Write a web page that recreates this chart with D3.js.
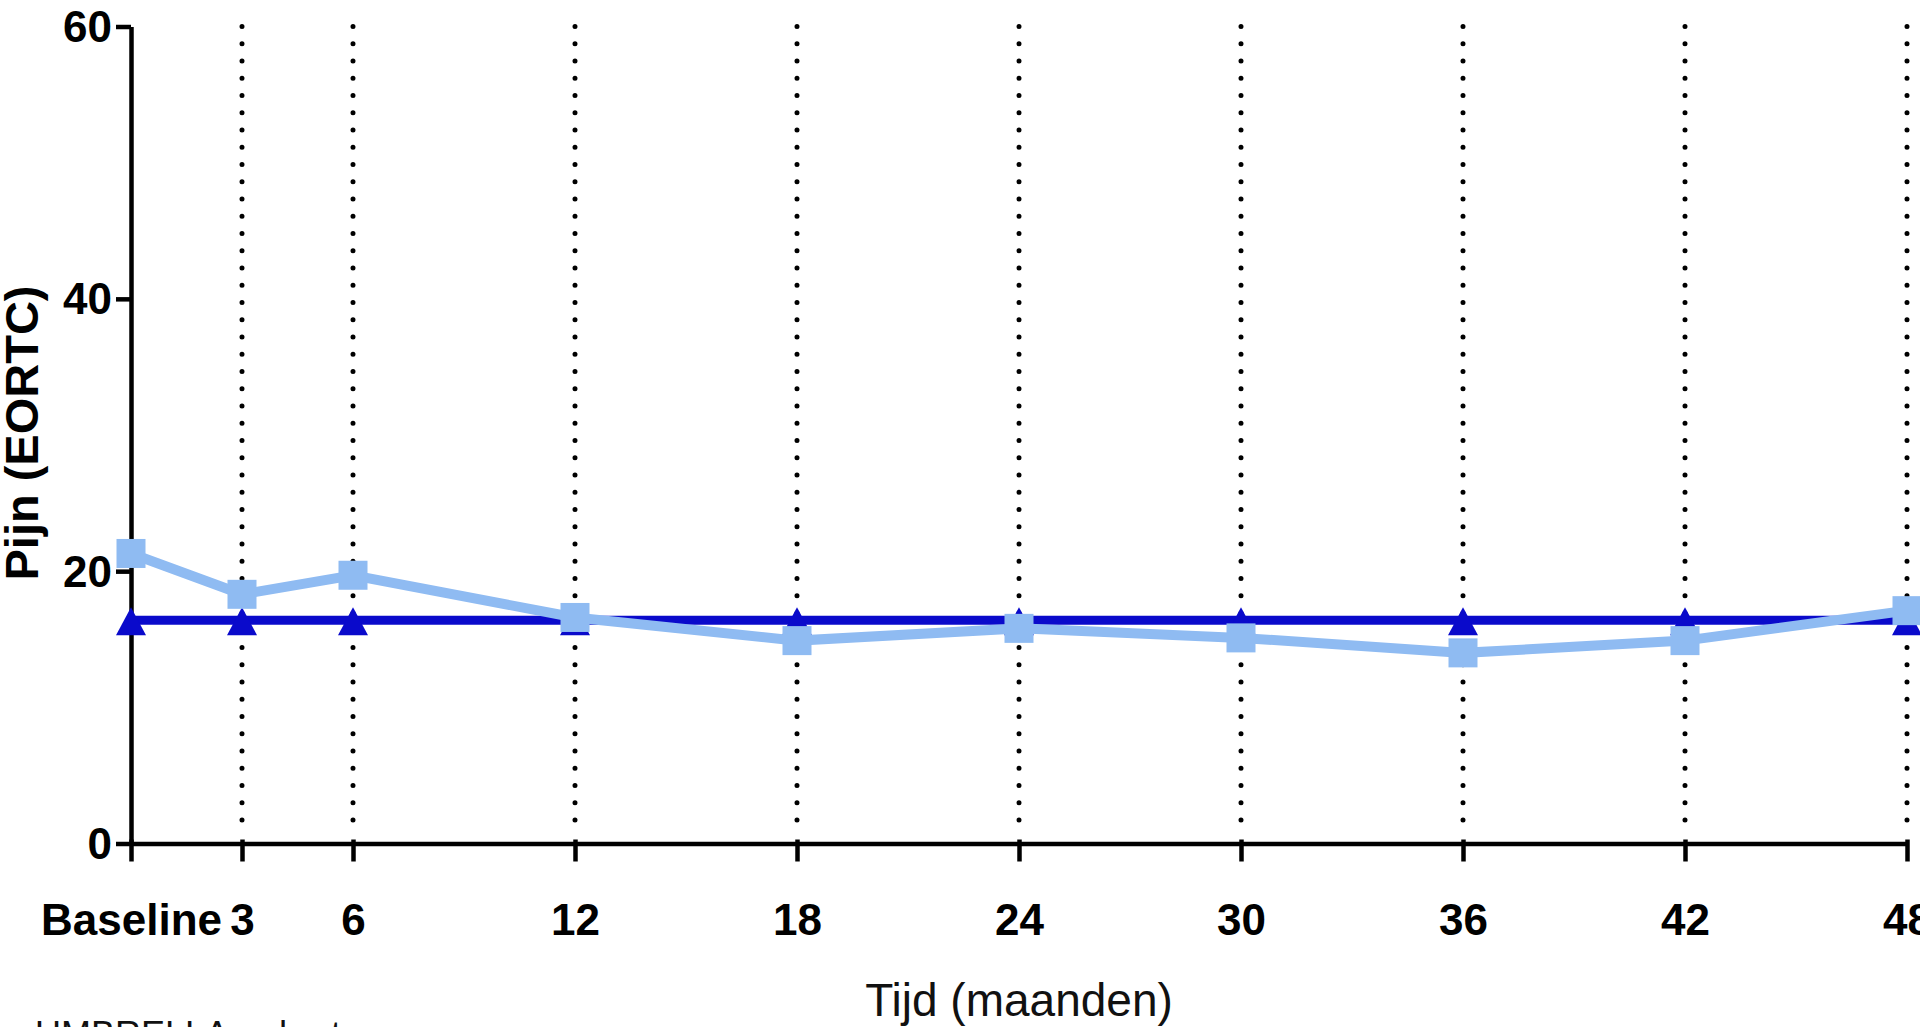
<!DOCTYPE html>
<html>
<head>
<meta charset="utf-8">
<script src="https://cdn.jsdelivr.net/npm/d3@7"></script>
<style>
html, body { margin: 0; padding: 0; background: #fff; overflow: hidden; }
svg { display: block; }
</style>
</head>
<body>
<script>
// ---- data ----
const months = [0, 3, 6, 12, 18, 24, 30, 36, 42, 48];
const tickLabels = ["Baseline", "3", "6", "12", "18", "24", "30", "36", "42", "48"];
const seriesDark = [16.4, 16.4, 16.4, 16.4, 16.4, 16.4, 16.4, 16.4, 16.4, 16.4];
const seriesLight = [21.3, 18.3, 19.7, 16.6, 14.9, 15.8, 15.1, 14.0, 14.9, 17.1];
const yTicks = [0, 20, 40, 60];
const yTitle = "Pijn (EORTC)";
const xTitle = "Tijd (maanden)";
const footText = "UMBRELLA-cohort";

const W = 1920, H = 1027;
const svg = d3.select("body").append("svg").attr("width", W).attr("height", H);

const x = d3.scaleLinear().domain([0, 48]).range([131, 1907]);
const y = d3.scaleLinear().domain([0, 60]).range([843.5, 26.5]);

const FONT = "'Liberation Sans', Arial, Helvetica, sans-serif";

// dotted vertical reference lines
svg.append("g").selectAll("line").data(months.filter(m => m > 0)).join("line")
  .attr("x1", d => x(d)).attr("x2", d => x(d))
  .attr("y1", y(60)).attr("y2", y(0) - 8)
  .attr("stroke", "#000").attr("stroke-width", 5)
  .attr("stroke-linecap", "round").attr("stroke-dasharray", "0 17.25");

// y axis
const yAxis = svg.append("g").attr("transform", `translate(${x(0)},0)`)
  .call(d3.axisLeft(y).tickValues(yTicks).tickSize(15).tickSizeOuter(0).tickPadding(4));
yAxis.select(".domain").attr("stroke", "#000").attr("stroke-width", 4.5);
yAxis.selectAll(".tick line").attr("stroke", "#000").attr("stroke-width", 4.5);
yAxis.selectAll(".tick text").attr("font-family", FONT).attr("font-weight", "bold")
  .attr("font-size", 44).attr("fill", "#000").attr("dy", "0.34em");

// x axis
const xAxis = svg.append("g").attr("transform", `translate(0,${y(0)})`)
  .call(d3.axisBottom(x).tickValues(months).tickFormat((d, i) => tickLabels[i])
    .tickSize(18).tickSizeOuter(0).tickPadding(42));
xAxis.select(".domain").attr("stroke", "#000").attr("stroke-width", 4.5);
xAxis.selectAll(".tick line").attr("stroke", "#000").attr("stroke-width", 4.5).attr("y1", -4);
xAxis.selectAll(".tick text").attr("font-family", FONT).attr("font-weight", "bold")
  .attr("font-size", 44).attr("fill", "#000").attr("dy", "0.71em");

// dark blue series
const darkColor = "#0a0acb";
const lightColor = "#8fbbf2";
const pts = (vals) => months.map((m, i) => [m, vals[i]]);
const line = d3.line().x(d => x(d[0])).y(d => y(d[1]));

svg.append("path").datum(pts(seriesDark)).attr("d", line)
  .attr("fill", "none").attr("stroke", darkColor).attr("stroke-width", 9);
svg.append("g").selectAll("path").data(pts(seriesDark)).join("path")
  .attr("d", d => {
    const cx = x(d[0]), cy = y(d[1]);
    return `M${cx},${cy - 13}L${cx + 15},${cy + 15}L${cx - 15},${cy + 15}Z`;
  })
  .attr("fill", darkColor);

// light blue series
svg.append("path").datum(pts(seriesLight)).attr("d", line)
  .attr("fill", "none").attr("stroke", lightColor).attr("stroke-width", 10);
svg.append("g").selectAll("rect").data(pts(seriesLight)).join("rect")
  .attr("x", d => x(d[0]) - 14.5).attr("y", d => y(d[1]) - 14.5)
  .attr("width", 29).attr("height", 29).attr("fill", lightColor);

// titles
svg.append("text")
  .attr("transform", `translate(38,${433}) rotate(-90)`)
  .attr("text-anchor", "middle").attr("font-family", FONT).attr("font-weight", "bold")
  .attr("font-size", 47).attr("fill", "#000").text(yTitle);

svg.append("text")
  .attr("x", x(24)).attr("y", 1016).attr("text-anchor", "middle")
  .attr("font-family", FONT).attr("font-size", 46).attr("fill", "#111").text(xTitle);

// cut-off footer text at the very bottom
svg.append("text")
  .attr("x", 35).attr("y", 1047)
  .attr("font-family", FONT).attr("font-size", 36).attr("fill", "#111").text(footText);
</script>
</body>
</html>
